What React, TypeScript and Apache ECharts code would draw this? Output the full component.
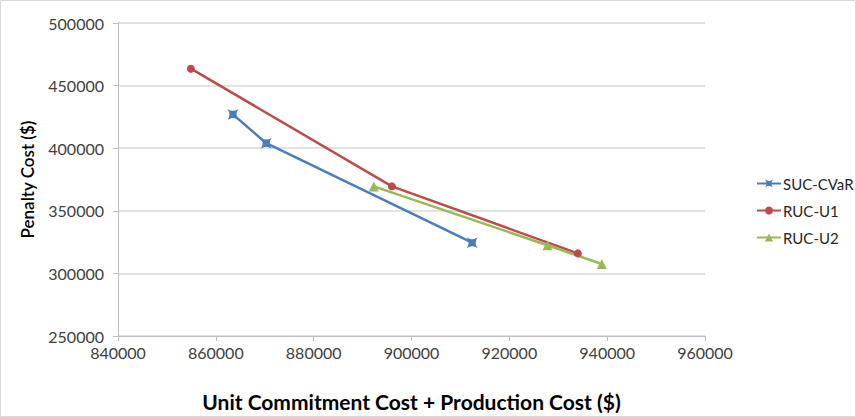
import React, { useEffect, useRef } from "react";
import * as echarts from "echarts";

const sucCvar: [number, number][] = [
  [863500, 427000],
  [870300, 404000],
  [912400, 324500],
];
const rucU1: [number, number][] = [
  [854900, 463500],
  [896000, 369500],
  [934000, 316000],
];
const rucU2: [number, number][] = [
  [892300, 369500],
  [927800, 322500],
  [938900, 307500],
];
const seriesNames = ["SUC-CVaR", "RUC-U1", "RUC-U2"];
const xTitle = "Unit Commitment Cost + Production Cost ($)";
const yTitle = "Penalty Cost ($)";

const starPath =
  "path://M-10,-10 Q0,-3 10,-10 Q3,0 10,10 Q0,3 -10,10 Q-3,0 -10,-10 Z";

export default function App() {
  const ref = useRef<HTMLDivElement>(null);
  useEffect(() => {
    document.body.style.margin = "0";
    const chart = echarts.init(ref.current!, undefined, { renderer: "svg" });
    const font = "Lato, 'Open Sans', sans-serif";
    chart.setOption({
      animation: false,
      textStyle: { fontFamily: font },
      graphic: [
        {
          type: "rect",
          shape: { x: 0.5, y: 0.5, width: 855, height: 416 },
          style: { fill: "none", stroke: "#d9d9d9", lineWidth: 1 },
          silent: true,
        },
      ],
      grid: { left: 118, right: 151, top: 23, bottom: 81 },
      xAxis: {
        type: "value",
        min: 840000,
        max: 960000,
        interval: 20000,
        name: xTitle,
        nameLocation: "middle",
        nameGap: 55,
        nameTextStyle: { fontSize: 21, fontWeight: "bold", color: "#000", fontFamily: font },
        axisLine: { show: true, lineStyle: { color: "#bfbfbf" } },
        axisTick: { show: true, length: 5, lineStyle: { color: "#bfbfbf" } },
        axisLabel: {
          fontSize: 16,
          color: "#404040",
          margin: 8,
          fontFamily: font,
          formatter: (v: number) => String(v),
        },
        splitLine: { show: false },
      },
      yAxis: {
        type: "value",
        min: 250000,
        max: 500000,
        interval: 50000,
        name: yTitle,
        nameLocation: "middle",
        nameGap: 82,
        nameTextStyle: { fontSize: 17, fontWeight: 600, color: "#000", fontFamily: font },
        axisLine: { show: true, lineStyle: { color: "#bfbfbf" } },
        axisTick: { show: true, length: 5, lineStyle: { color: "#bfbfbf" } },
        axisLabel: {
          fontSize: 16,
          color: "#404040",
          margin: 14,
          fontFamily: font,
          formatter: (v: number) => String(v),
        },
        splitLine: { show: true, lineStyle: { color: "#d9d9d9", width: 1.5 } },
      },
      legend: {
        orient: "vertical",
        left: 751,
        top: 171,
        itemGap: 12,
        itemWidth: 24,
        itemHeight: 10,
        textStyle: { fontSize: 15, color: "#262626", fontFamily: font, padding: [0, 0, 0, -3] },
        data: seriesNames,
      },
      series: [
        {
          name: seriesNames[0],
          type: "line",
          data: sucCvar,
          symbol: starPath,
          symbolSize: 11,
          lineStyle: { color: "#4a7ebb", width: 2.5 },
          itemStyle: { color: "#4a7ebb" },
        },
        {
          name: seriesNames[1],
          type: "line",
          data: rucU1,
          symbol: "circle",
          symbolSize: 8,
          lineStyle: { color: "#be4b48", width: 2.5 },
          itemStyle: { color: "#be4b48" },
        },
        {
          name: seriesNames[2],
          type: "line",
          data: rucU2,
          symbol: "triangle",
          symbolSize: 10,
          lineStyle: { color: "#98b954", width: 2.5 },
          itemStyle: { color: "#98b954" },
        },
      ],
    });
    return () => chart.dispose();
  }, []);
  return <div ref={ref} style={{ width: 856, height: 417 }} />;
}
